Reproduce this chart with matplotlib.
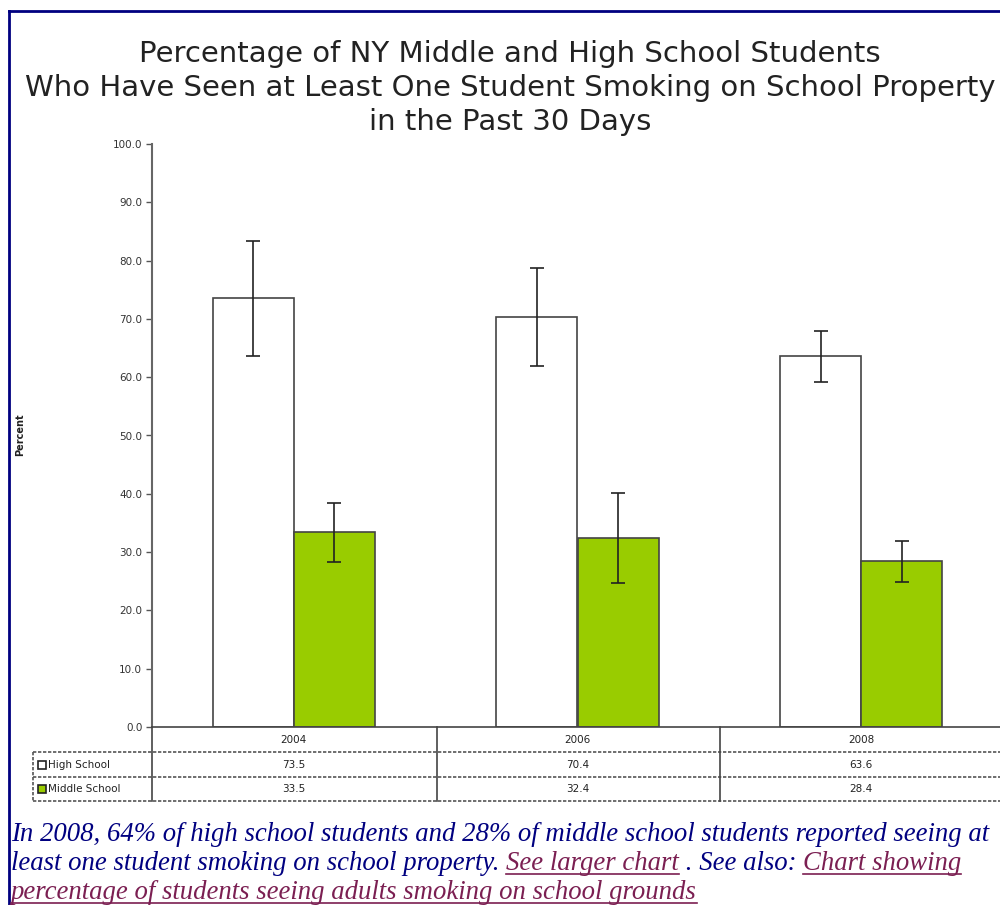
import matplotlib
matplotlib.use('Agg')
import matplotlib.pyplot as plt
from matplotlib.lines import Line2D
from matplotlib.patches import Rectangle
import numpy as np

# ---- data ----
years = ['2004', '2006', '2008']
high_school = [73.5, 70.4, 63.6]
middle_school = [33.5, 32.4, 28.4]
hs_low = [63.6, 61.9, 59.2]
hs_high = [83.4, 78.7, 67.9]
ms_low = [28.3, 24.7, 24.9]
ms_high = [38.4, 40.1, 31.9]
series_names = ['High School', 'Middle School']
series_colors = ['#ffffff', '#99cc00']
yticks = np.arange(0, 101, 10)

title = ('Percentage of NY Middle and High School Students\n'
         'Who Have Seen at Least One Student Smoking on School Property\n'
         'in the Past 30 Days')

W, H = 1000, 905
fig = plt.figure(figsize=(W / 100, H / 100), dpi=100)


def fx(px):
    return px / W


def fy(py):
    return 1 - py / H


# page frame (navy border, cropped on right/bottom)
fig.add_artist(Line2D([fx(9), fx(9)], [fy(11), fy(905)], color='#000080', lw=2))
fig.add_artist(Line2D([fx(9), fx(1000)], [fy(11), fy(11)], color='#000080', lw=2))

ax = fig.add_axes([fx(152), fy(727), fx(1003) - fx(152), fy(144) - fy(727)])
ax.set_xlim(-0.5, 2.5)
ax.set_ylim(0, 100)

x = np.arange(len(years))
bw = 0.286
err_kw = dict(ecolor='#222222', elinewidth=1.2, capsize=5, capthick=1.2)
hs_err = [np.array(high_school) - hs_low, np.array(hs_high) - high_school]
ms_err = [np.array(middle_school) - ms_low, np.array(ms_high) - middle_school]
ax.bar(x - bw / 2, high_school, bw, color=series_colors[0], edgecolor='#444444',
       linewidth=1.2, yerr=hs_err, error_kw=err_kw, zorder=2)
ax.bar(x + bw / 2, middle_school, bw, color=series_colors[1], edgecolor='#444444',
       linewidth=1.2, yerr=ms_err, error_kw=err_kw, zorder=2)

ax.set_yticks(yticks)
ax.set_yticklabels([f'{v:.1f}' for v in yticks], fontsize=7.5, color='#333333')
ax.tick_params(axis='y', length=4, width=1, color='#555555', pad=3)
ax.set_xticks([])
for s in ['top', 'right']:
    ax.spines[s].set_visible(False)
ax.spines['left'].set_color('#666666')
ax.spines['left'].set_linewidth(1.5)
ax.spines['bottom'].set_color('#444444')
ax.spines['bottom'].set_linewidth(1.2)

fig.text(fx(20), fy(435), 'Percent', rotation=90, ha='center', va='center',
         fontsize=7, fontweight='bold', color='#222222')

fig.text(fx(510), fy(88), title, ha='center', va='center', fontsize=21,
         color='#222222', linespacing=1.27, family='DejaVu Sans')

# ---- data table under the axis ----
col_x = [33, 152, 437, 720, 1003]
line_kw = dict(color='#555555', lw=1.2, linestyle=(0, (2, 1)))
fig.add_artist(Line2D([fx(33), fx(1000)], [fy(752), fy(752)], **line_kw))
fig.add_artist(Line2D([fx(33), fx(1000)], [fy(777), fy(777)], **line_kw))
fig.add_artist(Line2D([fx(33), fx(1000)], [fy(801), fy(801)], **line_kw))
fig.add_artist(Line2D([fx(33), fx(33)], [fy(752), fy(801)], **line_kw))
for cx in col_x[1:4]:
    fig.add_artist(Line2D([fx(cx), fx(cx)], [fy(727), fy(801)], color='#444444', lw=1.2))

trans = matplotlib.transforms.blended_transform_factory(ax.transData, fig.transFigure)
for i, yr in enumerate(years):
    fig.text(x[i], fy(740), yr, transform=trans, ha='center', va='center',
             fontsize=7.5, color='#222222')
    fig.text(x[i], fy(765), f'{high_school[i]:.1f}', transform=trans, ha='center',
             va='center', fontsize=7.5, color='#222222')
    fig.text(x[i], fy(789), f'{middle_school[i]:.1f}', transform=trans, ha='center',
             va='center', fontsize=7.5, color='#222222')

for name, color, yc in zip(series_names, series_colors, [765, 789]):
    fig.add_artist(Rectangle((fx(38), fy(yc + 4)), fx(8), fy(yc - 4) - fy(yc + 4),
                             facecolor=color, edgecolor='#222222', lw=1.2))
    fig.text(fx(48), fy(yc), name, ha='left', va='center', fontsize=7.5,
             color='#222222')

# ---- caption below the chart ----
navy = '#000080'
maroon = '#7b1f52'
cap_kw = dict(fontsize=19.3, style='italic', family='Liberation Serif', va='baseline')
fig.text(fx(11), fy(841), 'In 2008, 64% of high school students and 28% of middle '
         'school students reported seeing at', color=navy, **cap_kw)

r = fig.canvas.get_renderer()
xpos = fx(11)
pieces = [('least one student smoking on school property. ', navy, False),
          ('See larger chart', maroon, True),
          (' . See also: ', navy, False),
          ('Chart showing', maroon, True)]
for txt, col, under in pieces:
    t = fig.text(xpos, fy(870), txt, color=col, **cap_kw)
    bb = t.get_window_extent(renderer=r)
    if under:
        fig.add_artist(Line2D([xpos, xpos + bb.width / W], [fy(874), fy(874)],
                              color=col, lw=1.2))
    xpos += bb.width / W

t = fig.text(fx(11), fy(899), 'percentage of students seeing adults smoking on school grounds',
             color=maroon, **cap_kw)
bb = t.get_window_extent(renderer=r)
fig.add_artist(Line2D([fx(11), fx(11) + bb.width / W], [fy(903), fy(903)],
                      color=maroon, lw=1.2))

fig.savefig('out.png', dpi=100)
